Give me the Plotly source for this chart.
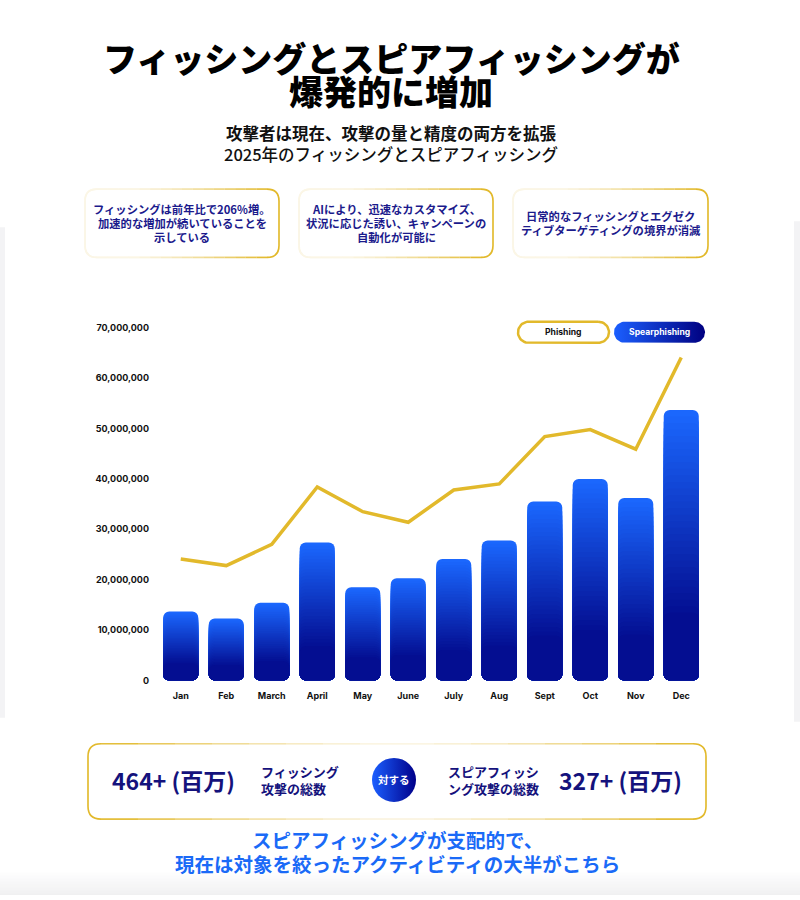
import math
import plotly.graph_objects as go

# ---------------- data ----------------
months = ["Jan", "Feb", "March", "April", "May", "June", "July", "Aug", "Sept", "Oct", "Nov", "Dec"]
phishing = [24.1e6, 22.8e6, 27.0e6, 38.4e6, 33.5e6, 31.4e6, 37.8e6, 39.0e6, 48.4e6, 49.8e6, 45.9e6, 64.1e6]
spearphishing = [13.7e6, 12.3e6, 15.4e6, 27.4e6, 18.5e6, 20.3e6, 24.1e6, 27.8e6, 35.5e6, 40.0e6, 36.2e6, 53.7e6]
y_tick_values = [0, 10e6, 20e6, 30e6, 40e6, 50e6, 60e6, 70e6]
y_tick_labels = ["0", "10,000,000", "20,000,000", "30,000,000", "40,000,000",
                 "50,000,000", "60,000,000", "70,000,000"]
series_names = ["Phishing", "Spearphishing"]

title_lines = ["フィッシングとスピアフィッシングが", "爆発的に増加"]
subtitle_lines = ["攻撃者は現在、攻撃の量と精度の両方を拡張", "2025年のフィッシングとスピアフィッシング"]
card_texts = [
    ["フィッシングは前年比で206%増。", "加速的な増加が続いていることを", "示している"],
    ["AIにより、迅速なカスタマイズ、", "状況に応じた誘い、キャンペーンの", "自動化が可能に"],
    ["日常的なフィッシングとエグゼク", "ティブターゲティングの境界が消滅"],
]
total_phishing = "464+ (百万)"
total_phishing_label = ["フィッシング", "攻撃の総数"]
total_spear = "327+ (百万)"
total_spear_label = ["スピアフィッシ", "ング攻撃の総数"]
versus_label = "対する"
tagline = ["スピアフィッシングが支配的で、", "現在は対象を絞ったアクティビティの大半がこちら"]

# ---------------- style ----------------
JP = "Noto Sans CJK JP"
LAT = "Inter"
GOLD = "#E2B92B"
PALE = "#FBF6E6"
NAVY_TXT = "#1b1a8c"
BAR_TOP = (27, 104, 255)
BAR_BOT = (0, 0, 128)
W, H = 800, 900


def Y(t):
    # layout y (px from top) that lands at target t in the photographed page
    return (t - 7.8) / 0.983


PX0, PX1 = 158, 704
PY_TOP, PY_BOT = Y(328), Y(679)


def lerp_col(c0, c1, t):
    t = max(0.0, min(1.0, t))
    return "rgb(%d,%d,%d)" % tuple(round(a + (b - a) * t) for a, b in zip(c0, c1))


def hex2rgb(h):
    h = h.lstrip("#")
    return tuple(int(h[i:i + 2], 16) for i in (0, 2, 4))


fig = go.Figure()

# gradient bars: overlaid bars from 0 to a shrinking fraction of each value,
# tallest (brightest) first, shorter (darker) on top
N = 32
F_MIN = 0.25
zero_base = [0] * len(spearphishing)
for k in range(N):
    f = 1 - (1 - F_MIN) * k / (N - 1)
    band_mid = f - (1 - F_MIN) / (N - 1) / 2
    col = lerp_col(BAR_BOT, BAR_TOP, (band_mid - 0.12) / 0.88)
    fig.add_trace(go.Bar(
        x=months, y=[v * f for v in spearphishing], base=zero_base,
        marker=dict(color=col, line=dict(width=0)),
        hoverinfo="skip", showlegend=False, xaxis="x", yaxis="y",
    ))

fig.add_trace(go.Scatter(
    x=months, y=phishing, mode="lines", name=series_names[0],
    line=dict(color=GOLD, width=3.5), showlegend=False, xaxis="x", yaxis="y",
))

shapes = []
annotations = []


def rrect_path(x0, x1, y0, y1, r):
    return (f"M{x0 + r},{y0} L{x1 - r},{y0} Q{x1},{y0} {x1},{y0 + r} L{x1},{y1 - r} "
            f"Q{x1},{y1} {x1 - r},{y1} L{x0 + r},{y1} Q{x0},{y1} {x0},{y1 - r} "
            f"L{x0},{y0 + r} Q{x0},{y0} {x0 + r},{y0} Z")


def faded_box(x0, x1, y0, y1, r, weight_fn, width=1.6):
    shapes.append(dict(type="path", path=rrect_path(x0, x1, y0, y1, r), xref="x2", yref="y2",
                       fillcolor="white", line=dict(color=PALE, width=width), layer="below"))
    g = hex2rgb(GOLD)
    p = hex2rgb(PALE)
    nseg = 16
    xs = [x0 + r + (x1 - x0 - 2 * r) * i / nseg for i in range(nseg + 1)]
    for i in range(nseg):
        u = (i + 0.5) / nseg
        c = lerp_col(p, g, weight_fn(u))
        for yy in (y0, y1):
            shapes.append(dict(type="line", x0=xs[i], x1=xs[i + 1], y0=yy, y1=yy,
                               xref="x2", yref="y2", line=dict(color=c, width=width), layer="below"))
    cr = lerp_col(p, g, weight_fn(1.0))
    shapes.append(dict(type="path", xref="x2", yref="y2", layer="below",
                       path=f"M{x1 - r},{y0} Q{x1},{y0} {x1},{y0 + r} L{x1},{y1 - r} Q{x1},{y1} {x1 - r},{y1}",
                       line=dict(color=cr, width=width)))
    cl = lerp_col(p, g, weight_fn(0.0))
    shapes.append(dict(type="path", xref="x2", yref="y2", layer="below",
                       path=f"M{x0 + r},{y0} Q{x0},{y0} {x0},{y0 + r} L{x0},{y1 - r} Q{x0},{y1} {x0 + r},{y1}",
                       line=dict(color=cl, width=width)))


def txt(x, y, s, size, color, family=JP, weight="bold", xanchor="center"):
    annotations.append(dict(x=x, y=Y(y), xref="x2", yref="y2", text=s, showarrow=False,
                            xanchor=xanchor, yanchor="middle",
                            font=dict(family=family, size=size, color=color, weight=weight)))


# faint page background panels
shapes.append(dict(type="rect", x0=0, x1=5, y0=Y(228), y1=Y(716), xref="x2", yref="y2",
                   fillcolor="#f3f3f5", line=dict(width=0), layer="below"))
shapes.append(dict(type="rect", x0=794, x1=800, y0=Y(222), y1=Y(720), xref="x2", yref="y2",
                   fillcolor="#f3f3f5", line=dict(width=0), layer="below"))
for i in range(12):
    shapes.append(dict(type="rect", x0=0, x1=800, y0=Y(870 + i * 3), y1=Y(873 + i * 3) + 1,
                       xref="x2", yref="y2",
                       fillcolor=lerp_col((255, 255, 255), (236, 236, 238), (i + 1) / 10),
                       line=dict(width=0), layer="below"))

# title & subtitle
txt(391, 59, title_lines[0], 34, "#000000", weight=900)
txt(391, 92, title_lines[1], 34, "#000000", weight=900)
txt(391, 134.5, subtitle_lines[0], 16.5, "#111111")
txt(391, 155, subtitle_lines[1], 16.5, "#111111", weight=500)

# cards
card_x = [(85, 279), (299, 493), (513, 708)]
for (cx0, cx1), lines in zip(card_x, card_texts):
    faded_box(cx0, cx1, Y(190), Y(258), 12, lambda u: max(0.0, min(1.0, (u - 0.2) / 0.8)) ** 1.3)
    cxm = (cx0 + cx1) / 2
    n = len(lines)
    y_start = 224 - (n - 1) * 7
    for j, s in enumerate(lines):
        txt(cxm, y_start + j * 14, s, 11.3, NAVY_TXT)


def pill_pts(x0, x1, y0, y1, n=24):
    r = (y1 - y0) / 2
    yc = (y0 + y1) / 2
    xs, ys = [], []
    for i in range(n + 1):
        a = -math.pi / 2 + math.pi * i / n
        xs.append(x1 - r + r * math.cos(a)); ys.append(yc + r * math.sin(a))
    for i in range(n + 1):
        a = math.pi / 2 + math.pi * i / n
        xs.append(x0 + r + r * math.cos(a)); ys.append(yc + r * math.sin(a))
    xs.append(xs[0]); ys.append(ys[0])
    return xs, ys


px, py = pill_pts(518, 609, Y(322), Y(343))
fig.add_trace(go.Scatter(x=px, y=py, mode="lines", fill="toself", fillcolor="white",
                         line=dict(color=GOLD, width=2.5), hoverinfo="skip", showlegend=False,
                         xaxis="x2", yaxis="y2"))
px, py = pill_pts(614, 705, Y(322), Y(343))
fig.add_trace(go.Scatter(x=px, y=py, mode="lines", fill="toself",
                         fillgradient=dict(type="horizontal", colorscale=[[0, "#1b5fff"], [1, "#000080"]]),
                         line=dict(width=0), hoverinfo="skip", showlegend=False,
                         xaxis="x2", yaxis="y2"))
txt(563.5, 332.5, series_names[0], 8.6, "#111111", family=LAT)
txt(659.5, 332.5, series_names[1], 8.6, "#ffffff", family=LAT)

# bottom summary box
faded_box(88, 706, Y(742), Y(817), 13, lambda u: abs(2 * u - 1) ** 1.5)
txt(173, 778, total_phishing, 23, "#14127c")
txt(259, 770, total_phishing_label[0], 13, "#14127c", xanchor="left")
txt(259, 787, total_phishing_label[1], 13, "#14127c", xanchor="left")
txt(446, 770, total_spear_label[0], 13, "#14127c", xanchor="left")
txt(446, 787, total_spear_label[1], 13, "#14127c", xanchor="left")
txt(620, 778, total_spear, 23, "#14127c")
fig.add_trace(go.Scatter(x=[394], y=[Y(778)], mode="markers",
                         marker=dict(size=44, color="#1b5fff", line=dict(width=0),
                                     gradient=dict(type="horizontal", color="#00008a")),
                         hoverinfo="skip", showlegend=False, xaxis="x2", yaxis="y2"))
txt(394, 778, versus_label, 10.5, "#ffffff")

# tagline
txt(397, 837, tagline[0], 19.5, "#1a6af7")
txt(397, 861, tagline[1], 19.5, "#1a6af7")

fig.update_layout(
    width=W, height=H,
    margin=dict(l=0, r=0, t=0, b=0),
    paper_bgcolor="white", plot_bgcolor="rgba(0,0,0,0)",
    barmode="overlay", bargap=0.23, barcornerradius=6,
    showlegend=False,
    xaxis=dict(domain=[PX0 / W, PX1 / W], anchor="y", showgrid=False, zeroline=False,
               showline=False, ticks="", ticklabelstandoff=9,
               tickfont=dict(family=LAT, size=9, color="#111111", weight="bold")),
    yaxis=dict(domain=[1 - PY_BOT / H, 1 - PY_TOP / H], anchor="x", range=[0, 70e6],
               tickvals=y_tick_values, ticktext=y_tick_labels, showgrid=False,
               zeroline=False, showline=False, ticks="", ticklabelstandoff=8,
               tickfont=dict(family=LAT, size=9, color="#111111", weight="bold")),
    xaxis2=dict(domain=[0, 1], range=[0, W], anchor="y2", visible=False, fixedrange=True),
    yaxis2=dict(domain=[0, 1], range=[H, 0], anchor="x2", visible=False, fixedrange=True),
    shapes=shapes, annotations=annotations,
)

fig.write_html("out.html", config={"displayModeBar": False},
               post_script="document.body.style.margin='0';")
